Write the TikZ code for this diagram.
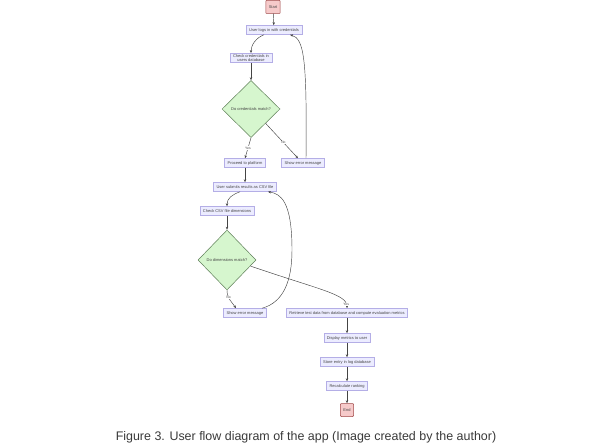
\documentclass[tikz,border=0pt]{standalone}
\usepackage{fontspec}
\setmainfont{Liberation Sans}
\usetikzlibrary{shapes.geometric,arrows.meta,calc}
\definecolor{boxfill}{HTML}{ECECFF}
\definecolor{boxline}{HTML}{B4AEE6}
\definecolor{termfill}{HTML}{F6CACA}
\definecolor{termline}{HTML}{A04848}
\definecolor{choicefill}{HTML}{D6F6CE}
\definecolor{choiceline}{HTML}{5E7F58}
\definecolor{nodetext}{HTML}{444444}
\definecolor{linecol}{HTML}{444444}
\definecolor{captext}{HTML}{3A3A3A}
\begin{document}
\begin{tikzpicture}[x=1bp,y=-1bp,
  stepbox/.style={draw=boxline, fill=boxfill, text=nodetext, font=\fontsize{4}{4.8}\selectfont,
                  inner xsep=3bp, inner ysep=0.8bp, minimum height=9bp, line width=0.5bp},
  termbox/.style={stepbox, draw=termline, fill=termfill, minimum width=11bp, minimum height=13bp, rounded corners=0.8bp},
  choice/.style={diamond, draw=choiceline, fill=choicefill, text=nodetext, font=\fontsize{4}{4.8}\selectfont,
                 inner sep=0pt, line width=0.5bp},
  flow/.style={draw=linecol, line width=0.45bp, -{Stealth[length=3bp,width=2.4bp]}},
  tag/.style={font=\fontsize{3.4}{4}\selectfont, text=nodetext, fill=white, inner sep=0.6bp}]
\fill[white] (0,0) rectangle (612,446);
\useasboundingbox (0,0) rectangle (612,446);

% login part
\node[termbox] (start) at (273,7) {Start};
\node[stepbox] (login) at (274,30) {User logs in with credentials};
\node[stepbox, align=center] (check) at (251,58) {Check credentials in\\users database};
\node[choice, minimum width=58bp, minimum height=57bp] (match) at (251,109) {Do credentials match?};
\node[stepbox] (proceed) at (245,163) {Proceed to platform};
\node[stepbox] (err1) at (303,163) {Show error message};

% submission part
\node[stepbox] (submit) at (245,187) {User submits results as CSV file};
\node[stepbox] (csv) at (227,211) {Check CSV file dimensions};
\node[choice, minimum width=58bp, minimum height=60bp] (dims) at (227,260) {Do dimensions match?};
\node[stepbox] (err2) at (245,313) {Show error message};
\node[stepbox] (fetch) at (347,313) {Retrieve test data from database and compute evaluation metrics};
\node[stepbox] (show) at (347,338) {Display metrics to user};
\node[stepbox] (store) at (347,362) {Store entry in log database};
\node[stepbox] (rank) at (347,386) {Recalculate ranking};
\node[termbox] (end) at (347,410) {End};

\coordinate (back) at (292,250);

\draw[flow] (start) -- (login);
\draw[flow] ([xshift=-10bp]login.south) .. controls +(-8,3) and +(0,-8) .. (check.north);
\draw[flow] (check) -- (match);
\draw[flow] (match.south) -- node[tag]{Yes} (proceed.north);
\draw[flow] (match.south east) -- node[tag,pos=0.55]{No} ([xshift=-5bp]err1.north);
\draw[flow] ([xshift=3bp]err1.north) .. controls +(1,-100) and +(14,4) .. ([xshift=16bp]login.south);

\draw[flow] (proceed) -- (submit);
\draw[flow] ([xshift=-5bp]submit.south) .. controls +(-8,3) and +(0,-8) .. (csv.north);
\draw[flow] (csv) -- (dims);
\draw[flow] (dims.south) .. controls +(0,8) and +(-4,-6) .. node[tag,pos=0.35]{No} ([xshift=-9bp]err2.north);
\draw[flow] ($(dims.east)!0.2!(dims.south)$) .. controls +(70,24) and +(0,-14) .. node[tag,pos=0.9]{Yes} (fetch.north);
\draw[flow] ([xshift=17bp]err2.north) .. controls +(22,-6) and +(0,30) .. (back)
            .. controls +(0,-50) and +(12,2) .. ([xshift=23bp]submit.south);

\draw[flow] (fetch) -- (show);
\draw[flow] (show) -- (store);
\draw[flow] (store) -- (rank);
\draw[flow] (rank) -- (end);

\node[text=captext, font=\fontsize{12.5}{15}\selectfont] (caption) at (306,437)
  {Figure 3. User flow diagram of the app (Image created by the author)};
\end{tikzpicture}
\end{document}
